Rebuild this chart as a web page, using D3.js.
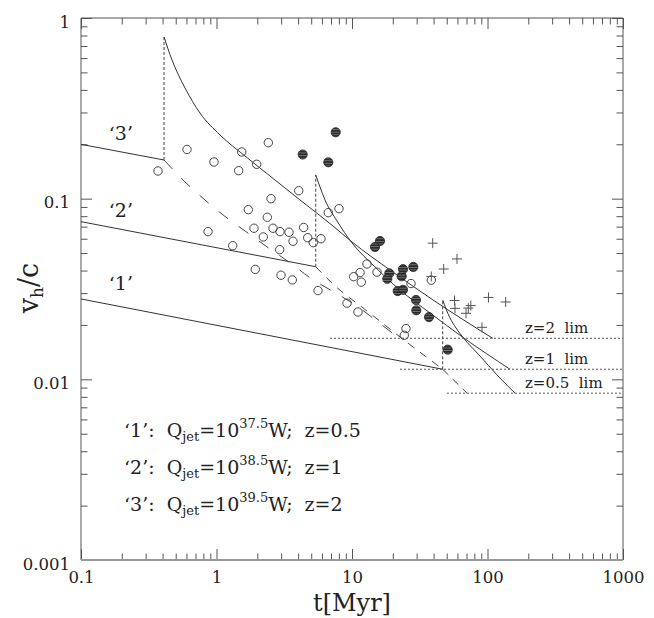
<!DOCTYPE html>
<html><head><meta charset="utf-8">
<script src="https://cdn.jsdelivr.net/npm/d3@7"></script>
<style>html,body{margin:0;padding:0;background:#fff}</style>
</head><body><svg id="c" width="654" height="618"></svg>
<script>
// ---------- data (t [Myr], v_h/c) ----------
const xTickValues = [0.1, 1, 10, 100, 1000];
const xTickLabels = ["0.1", "1", "10", "100", "1000"];
const yTickValues = [0.001, 0.01, 0.1, 1];
const yTickLabels = ["0.001", "0.01", "0.1", "1"];

const openCircles = [[0.370,0.1423],[0.606,0.1872],[0.958,0.1596],[1.458,0.1429],[1.535,0.1813],[1.980,0.1550],[2.412,0.2041],[4.044,0.1107],[2.525,0.1000],[1.717,0.0869],[2.371,0.0789],[0.866,0.0657],[1.891,0.0686],[2.612,0.0686],[2.942,0.0657],[3.428,0.0652],[4.401,0.0693],[2.215,0.0614],[3.669,0.0581],[4.711,0.0608],[5.183,0.0571],[5.904,0.0600],[1.317,0.0549],[2.927,0.0522],[1.933,0.0406],[2.992,0.0377],[3.626,0.0355],[5.611,0.0310],[6.685,0.0837],[8.018,0.0880],[12.90,0.0435],[10.29,0.0370],[11.46,0.0390],[11.71,0.0345],[15.29,0.0392],[27.26,0.0339],[38.48,0.0354],[9.186,0.0264],[11.07,0.0236],[25.03,0.0191],[24.32,0.01754]];
const filledCircles = [[4.327,0.1756],[7.58,0.2331],[6.685,0.1590],[16.09,0.0583],[14.78,0.0540],[28.35,0.0419],[23.79,0.0407],[18.85,0.0386],[23.27,0.0372],[18.22,0.0360],[21.74,0.0308],[23.79,0.0313],[29.67,0.0275],[29.82,0.0241],[37.01,0.0221],[50.85,0.0146]];
const crosses = [[39.41,0.0567],[59.55,0.0464],[47.52,0.0408],[38.48,0.0371],[57.08,0.0273],[57.56,0.0247],[101.7,0.0284],[136.2,0.0268],[75.3,0.0256],[72.17,0.0248],[69.4,0.0232],[91.1,0.0194]];

// model '3'
const line3 = [[0.1,0.1998],[0.41,0.1637]];
const jump3 = [[0.41,0.1637],[0.41,0.785]];
const curve3 = [[0.41,0.785],[0.4694,0.5856],[0.5855,0.410],[0.755,0.298],[1.061,0.2252],[1.623,0.1723],[2.482,0.1335],[4.13,0.0984],[7.24,0.0706],[10.0,0.0576],[19.07,0.0403],[39.6,0.0275],[109.2,0.01688]];
const decay3 = [[0.41,0.1637],[0.566,0.1269],[0.795,0.1005],[1.136,0.0805],[1.651,0.0657],[2.399,0.0536],[3.528,0.0439],[5.093,0.0358],[7.49,0.0302],[10.83,0.0255],[15.64,0.0207],[22.23,0.01688]];
// model '2'
const line2 = [[0.1,0.0746],[5.40,0.0420]];
const jump2 = [[5.40,0.0420],[5.40,0.1353]];
const curve2 = [[5.40,0.1353],[5.804,0.1161],[6.321,0.0984],[7.749,0.0753],[10.0,0.0569],[14.78,0.0419],[22.61,0.0312],[37.63,0.0233],[65.95,0.01706],[146.6,0.01137]];
const decay2 = [[5.40,0.0420],[7.365,0.0333],[12.9,0.0239],[22.61,0.01717],[46.7,0.01137]];
// model '1'
const line1 = [[0.1,0.02786],[46.7,0.01137]];
const jump1 = [[46.7,0.01137],[46.7,0.0275]];
const curve1 = [[46.7,0.0275],[49.39,0.02453],[52.87,0.02187],[58.55,0.01925],[65.95,0.01706],[88.03,0.01347],[117.5,0.01058],[159.6,0.00838]];
const decay1 = [[46.7,0.01137],[70.6,0.00838]];

// flux limits
const limitValues = [0.01688, 0.01137, 0.00838];
const limitStarts = [6.88, 22.61, 50.2];
const limitLabels = ["z=2  lim", "z=1  lim", "z=0.5  lim"];
const limitLabelT = 189;

// model labels
const modelNames = ["‘3’", "‘2’", "‘1’"];
const modelLabelPos = [[0.197,0.211],[0.197,0.0795],[0.197,0.0312]];
const legendIds = ["‘1’:", "‘2’:", "‘3’:"];
const legendExp = ["37.5", "38.5", "39.5"];
const legendZ = ["z=0.5", "z=1", "z=2"];

// ---------- drawing ----------
const svg = d3.select("#c");
const L = 81, R = 623, T = 18, B = 560;
const x = d3.scaleLog().domain([0.1, 1000]).range([L, R]);
const y = d3.scaleLog().domain([0.001, 1]).range([B, T]);
const FONT = "'DejaVu Serif', 'Liberation Serif', serif";
const ink = "#333";

const defs = svg.append("defs");
const pat = defs.append("pattern").attr("id","stripe").attr("patternUnits","userSpaceOnUse").attr("width",4).attr("height",2.6);
pat.append("rect").attr("width",4).attr("height",2.6).attr("fill","#2a2a2a");
pat.append("rect").attr("y",1.8).attr("width",4).attr("height",0.7).attr("fill","#8a8a8a");

// minor ticks
const minorX = [], minorY = [];
[0.1,1,10,100].forEach(d => { for (let k=2;k<=9;k++) minorX.push(d*k); });
[0.001,0.01,0.1].forEach(d => { for (let k=2;k<=9;k++) minorY.push(d*k); });

function axisGroup(axis, tr) {
  const g = svg.append("g").attr("transform", tr).call(axis);
  g.select(".domain").remove();
  g.selectAll("line").attr("stroke", "#555").attr("stroke-width", 1);
  g.selectAll("text").attr("font-family", FONT).attr("font-size", 16.5).attr("fill", "#222");
  return g;
}
const fmtX = (d) => xTickLabels[xTickValues.indexOf(d)];
const fmtY = (d) => yTickLabels[yTickValues.indexOf(d)];
axisGroup(d3.axisBottom(x).tickValues(minorX).tickSize(-6.5).tickFormat(""), `translate(0,${B})`);
axisGroup(d3.axisBottom(x).tickValues(xTickValues).tickSize(-11).tickPadding(11).tickFormat(fmtX), `translate(0,${B})`);
axisGroup(d3.axisTop(x).tickValues(minorX).tickSize(-6.5).tickFormat(""), `translate(0,${T})`);
axisGroup(d3.axisTop(x).tickValues(xTickValues).tickSize(-11).tickFormat(""), `translate(0,${T})`);
axisGroup(d3.axisLeft(y).tickValues(minorY).tickSize(-6.5).tickFormat(""), `translate(${L},0)`);
const gy = axisGroup(d3.axisLeft(y).tickValues(yTickValues).tickSize(-11).tickPadding(11).tickFormat(fmtY), `translate(${L},0)`);
gy.selectAll("text").attr("dy", "0.55em");
axisGroup(d3.axisRight(y).tickValues(minorY).tickSize(-6.5).tickFormat(""), `translate(${R},0)`);
axisGroup(d3.axisRight(y).tickValues(yTickValues).tickSize(-11).tickFormat(""), `translate(${R},0)`);

// frame
svg.append("line").attr("x1",L).attr("x2",L).attr("y1",T).attr("y2",B).attr("stroke","#555").attr("stroke-width",1);
svg.append("line").attr("x1",R).attr("x2",R).attr("y1",T).attr("y2",B).attr("stroke","#555").attr("stroke-width",1);
svg.append("line").attr("x1",L).attr("x2",R).attr("y1",T).attr("y2",T).attr("stroke","#555").attr("stroke-width",1);
svg.append("line").attr("x1",L).attr("x2",R).attr("y1",B).attr("y2",B).attr("stroke","#999").attr("stroke-width",1.8);

// lines
const smooth = d3.line().x(d => x(d[0])).y(d => y(d[1])).curve(d3.curveMonotoneX);
const straight = d3.line().x(d => x(d[0])).y(d => y(d[1]));
const plotG = svg.append("g");
function path(data, gen, dash, color, w) {
  plotG.append("path").attr("d", gen(data)).attr("fill","none")
    .attr("stroke", color || ink).attr("stroke-width", w || 1)
    .attr("stroke-dasharray", dash || null);
}
[line1, line2, line3].forEach(d => path(d, straight));
[jump1, jump2, jump3].forEach(d => path(d, straight, "3,2", "#444"));
[curve1, curve2, curve3].forEach(d => path(d, smooth));
path(decay3, smooth, "12,13", "#444");
path(decay2, smooth, "8,7", "#444");
path(decay1, straight, "8,6", "#444");

// limit lines
limitValues.forEach((v, i) => {
  plotG.append("line").attr("x1", x(limitStarts[i])).attr("x2", x(1000))
    .attr("y1", y(v)).attr("y2", y(v))
    .attr("stroke", "#555").attr("stroke-width", 1).attr("stroke-dasharray", "2,2");
  svg.append("text").attr("x", x(limitLabelT)).attr("y", y(v) - 5)
    .attr("font-family", FONT).attr("font-size", 15).attr("fill", "#222")
    .style("white-space", "pre").text(limitLabels[i]);
});

// markers
plotG.selectAll("circle.open").data(openCircles).enter().append("circle")
  .attr("cx", d => x(d[0])).attr("cy", d => y(d[1])).attr("r", 4.2)
  .attr("fill", "none").attr("stroke", "#444").attr("stroke-width", 1);
plotG.selectAll("circle.fill").data(filledCircles).enter().append("circle")
  .attr("cx", d => x(d[0])).attr("cy", d => y(d[1])).attr("r", 4.6)
  .attr("fill", "url(#stripe)").attr("stroke", "#222").attr("stroke-width", 0.8);
const cr = plotG.selectAll("g.cross").data(crosses).enter().append("g")
  .attr("transform", d => `translate(${x(d[0])},${y(d[1])})`);
cr.append("line").attr("x1",-5).attr("x2",5).attr("stroke","#555").attr("stroke-width",1);
cr.append("line").attr("y1",-5).attr("y2",5).attr("stroke","#555").attr("stroke-width",1);

// model labels
modelNames.forEach((n, i) => {
  svg.append("text").attr("x", x(modelLabelPos[i][0])).attr("y", y(modelLabelPos[i][1]))
    .attr("text-anchor","middle").attr("font-family", FONT).attr("font-size", 19).attr("fill","#222").text(n);
});

// legend
legendIds.forEach((id, i) => {
  const t = svg.append("text").attr("x", 124).attr("y", 437 + i * 37)
    .attr("font-family", FONT).attr("font-size", 19).attr("fill", "#222").style("white-space", "pre");
  t.append("tspan").text(id + "  Q");
  t.append("tspan").attr("font-size", 13).attr("dy", 4).text("jet");
  t.append("tspan").attr("dy", -4).text("=10");
  t.append("tspan").attr("font-size", 13).attr("dy", -9).text(legendExp[i]);
  t.append("tspan").attr("dy", 9).text("W;  " + legendZ[i]);
});

// axis titles
svg.append("text").attr("x", (L + R) / 2).attr("y", 611).attr("text-anchor", "middle")
  .attr("font-family", FONT).attr("font-size", 24).attr("fill", "#222").text("t[Myr]");
const yl = svg.append("text").attr("transform", "translate(38,288) rotate(-90)").attr("text-anchor", "middle")
  .attr("font-family", FONT).attr("font-size", 27).attr("fill", "#222");
yl.append("tspan").text("v");
yl.append("tspan").attr("font-size", 17).attr("dy", 5).text("h");
yl.append("tspan").attr("dy", -5).text("/c");
</script></body></html>
